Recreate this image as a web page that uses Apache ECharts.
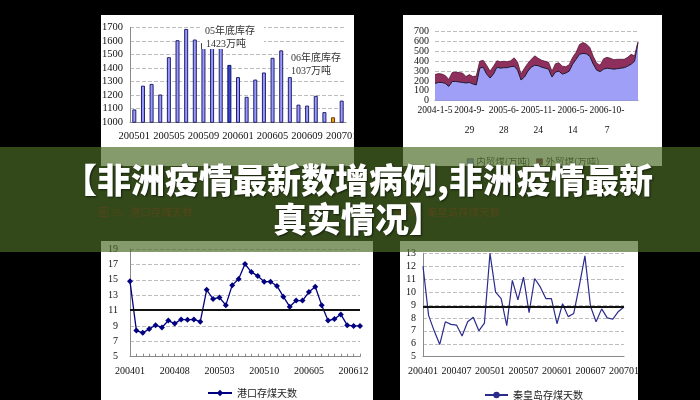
<!DOCTYPE html>
<html><head><meta charset="utf-8">
<script src="https://cdn.jsdelivr.net/npm/echarts@6/dist/echarts.min.js"></script>
<style>html,body{margin:0;padding:0;background:#000}#c{width:700px;height:400px}</style>
</head><body><div id="c"></div>
<script>
// ---- Chart 1: port stock (万吨), monthly bars
const stockMonths = ['200501','200502','200503','200504','200505','200506','200507','200508','200509','200510','200511','200512',
  '200601','200602','200603','200604','200605','200606','200607','200608','200609','200610','200611','200612','200701'];
const stockValues = [1095,1270,1283,1205,1480,1605,1688,1610,1580,1580,1590,1423,
  1333,1188,1315,1367,1475,1530,1333,1130,1123,1195,1075,1037,1160];
const stockHighlightBlue = '200512';
const stockHighlightOrange = '200612';

// ---- Chart 2: stacked area 内贸煤 / 外贸煤
const areaTickLabels = ['2004-1-5','2004-9-29','2005-6-28','2005-11-24','2006-5-14','2006-10-7'];
const areaTickStep = 10;
const domesticCoal = [175,185,185,175,145,195,195,190,185,180,185,170,160,330,340,270,230,270,340,330,
  335,335,345,350,310,210,240,300,340,360,355,340,330,320,240,290,300,270,280,300,
  370,420,470,480,475,450,370,310,295,320,330,325,320,325,330,335,350,370,400,590];
const foreignCoal = [90,90,85,80,70,90,95,95,95,65,80,75,90,70,70,90,70,80,65,65,
  65,60,60,85,80,60,90,80,80,95,75,70,70,70,60,85,85,80,65,65,
  70,70,100,110,100,90,80,70,65,105,110,105,95,95,90,85,90,100,55,10];

// ---- Chart 3: 港口存煤天数
const portMonths = ['200401','200402','200403','200404','200405','200406','200407','200408','200409','200410','200411','200412',
  '200501','200502','200503','200504','200505','200506','200507','200508','200509','200510','200511','200512',
  '200601','200602','200603','200604','200605','200606','200607','200608','200609','200610','200611','200612','200701'];
const portDays = [14.8,8.4,8.1,8.6,9.1,8.8,9.7,9.3,9.85,9.8,9.85,9.55,
  13.7,12.5,12.7,11.7,14.3,15.1,17.05,16.0,15.5,14.75,14.75,14.2,
  12.8,11.5,12.3,12.3,13.4,14.1,11.7,9.7,9.9,10.5,9.1,9.0,9.0];
const portAvg = 11.1;

// ---- Chart 4: 秦皇岛存煤天数
const qhdMonths = portMonths;
const qhdDays = [12.0,8.2,7.0,5.95,7.7,7.5,7.45,6.6,7.7,8.05,7.0,7.6,
  13.0,10.0,9.5,7.4,10.9,9.4,11.15,8.4,11.05,10.4,9.5,9.5,
  7.55,9.1,8.1,8.35,10.5,12.8,8.9,7.7,8.7,8.0,7.9,8.5,8.85];
const qhdAvg = 8.9;

const serif = 'Liberation Serif';
const cjk = 'Noto Sans CJK SC';
const gridLine = {show:true, lineStyle:{color:'#bdbdbd', type:'dashed', width:1}};
const axisGray = {show:true, lineStyle:{color:'#8a8a8a', width:1}};
const plain = v => String(v);

const chart = echarts.init(document.getElementById('c'), null, {renderer:'canvas'});

const barData = stockValues.map((v, i) => {
  let fill = '#9999ff', border = '#20206a';
  if (stockMonths[i] === stockHighlightBlue) { fill = '#2f46d8'; border = '#101060'; }
  if (stockMonths[i] === stockHighlightOrange) { fill = '#f4a11c'; border = '#6a3a00'; }
  return {value: v, itemStyle: {color: fill, borderColor: border, borderWidth: 1}};
});

const option = {
  backgroundColor: '#000',
  animation: false,
  textStyle: {fontFamily: serif},
  grid: [
    {left:130, top:27.3, width:216, height:95},
    {left:435, top:31.7, width:203, height:69},
    {left:130, top:249, width:230, height:107.7},
    {left:423, top:253.3, width:201, height:103.4}
  ],
  xAxis: [
    {gridIndex:0, type:'category', data:stockMonths, boundaryGap:true,
      axisLine:axisGray, axisTick:{show:false},
      axisLabel:{interval:3, fontSize:10.5, color:'#111', margin:8, fontFamily:serif}},
    {gridIndex:1, type:'category', data:domesticCoal.map((_, i) => String(i)), boundaryGap:false,
      axisLine:axisGray, axisTick:{show:false},
      axisLabel:{interval:areaTickStep - 1, fontSize:9.5, color:'#111', margin:0, lineHeight:20, fontFamily:serif,
        formatter:(v, i) => {
          const s = areaTickLabels[Math.round(i / areaTickStep)] || '';
          if (s.length <= 8) return s;
          const k = s.lastIndexOf('-') + 1;
          return s.slice(0, k) + '\n' + s.slice(k);
        }}},
    {gridIndex:2, type:'category', data:portMonths, boundaryGap:false,
      axisLine:axisGray, axisTick:{show:true, inside:true, length:3, interval:0, lineStyle:{color:'#8a8a8a'}},
      axisLabel:{interval:6, fontSize:10, color:'#111', margin:10, fontFamily:serif}},
    {gridIndex:3, type:'category', data:qhdMonths, boundaryGap:false,
      axisLine:axisGray, axisTick:{show:false},
      axisLabel:{interval:5, fontSize:10, color:'#111', margin:10, fontFamily:serif}}
  ],
  yAxis: [
    {gridIndex:0, type:'value', min:1000, max:1700, interval:100, axisLine:axisGray, axisTick:{show:false},
      splitLine:gridLine, axisLabel:{fontSize:10.5, color:'#111', margin:7, fontFamily:serif, formatter:plain}},
    {gridIndex:1, type:'value', min:0, max:700, interval:100, axisLine:{show:false}, axisTick:{show:false},
      splitLine:gridLine, axisLabel:{fontSize:10, color:'#111', margin:6, fontFamily:serif, formatter:plain}},
    {gridIndex:2, type:'value', min:5, max:19, interval:2, axisLine:axisGray, axisTick:{show:false},
      splitLine:gridLine, axisLabel:{fontSize:10, color:'#111', margin:12, fontFamily:serif, formatter:plain}},
    {gridIndex:3, type:'value', min:5, max:13, interval:1, axisLine:axisGray, axisTick:{show:false},
      splitLine:gridLine, axisLabel:{fontSize:10, color:'#111', margin:7, fontFamily:serif, formatter:plain}}
  ],
  legend: [
    {data:['内贸煤(万吨)','外贸煤(万吨)'], left:462, top:152, icon:'rect', itemWidth:6, itemHeight:6, itemGap:6,
      itemStyle:{borderColor:'#444', borderWidth:0.6},
      textStyle:{fontSize:9.5, color:'#444', fontFamily:cjk, padding:[0,0,0,-2]}},
    {data:['港口存煤天数'], left:202, top:383, itemWidth:24, itemHeight:8,
      textStyle:{fontSize:10, color:'#222', fontFamily:cjk}},
    {data:['秦皇岛存煤天数'], left:479, top:385, itemWidth:23, itemHeight:8,
      textStyle:{fontSize:10, color:'#222', fontFamily:cjk}}
  ],
  series: [
    {name:'港口库存', type:'bar', xAxisIndex:0, yAxisIndex:0, barWidth:4, data:barData},
    {name:'内贸煤(万吨)', type:'line', xAxisIndex:1, yAxisIndex:1, stack:'coal', symbol:'none',
      data:domesticCoal, itemStyle:{color:'#9999ff'}, lineStyle:{color:'#1a1a2a', width:1},
      areaStyle:{color:'#9f9ff7', opacity:1}},
    {name:'外贸煤(万吨)', type:'line', xAxisIndex:1, yAxisIndex:1, stack:'coal', symbol:'none',
      data:foreignCoal, itemStyle:{color:'#8e2f5e'}, lineStyle:{color:'#5a1535', width:0.8},
      areaStyle:{color:'#8e2f5e', opacity:1}},
    {name:'港口存煤天数', type:'line', xAxisIndex:2, yAxisIndex:2, symbol:'diamond', symbolSize:6, showAllSymbol:true,
      data:portDays, itemStyle:{color:'#000080'}, lineStyle:{color:'#000080', width:1.3},
      markLine:{silent:true, symbol:'none', label:{show:false}, lineStyle:{color:'#111', width:2, type:'solid'},
        data:[{yAxis:portAvg}]}},
    {name:'秦皇岛存煤天数', type:'line', xAxisIndex:3, yAxisIndex:3, symbol:'none',
      data:qhdDays, itemStyle:{color:'#2b2b8c'}, lineStyle:{color:'#2b2b8c', width:1.2},
      markLine:{silent:true, symbol:'none', label:{show:false}, lineStyle:{color:'#111', width:2, type:'solid'},
        data:[{yAxis:qhdAvg}]}}
  ],
  graphic: [
    {type:'rect', z:-10, shape:{x:101, y:15, width:253, height:151}, style:{fill:'#fff'}},
    {type:'rect', z:-10, shape:{x:403, y:15, width:259, height:151}, style:{fill:'#fff'}},
    {type:'rect', z:-10, shape:{x:101, y:241, width:272, height:159}, style:{fill:'#fff'}},
    {type:'rect', z:-10, shape:{x:400, y:241, width:238, height:159}, style:{fill:'#fff'}},
    {type:'rect', z:50, shape:{x:354, y:0, width:49, height:166}, style:{fill:'#000'}},
    {type:'rect', z:50, shape:{x:638, y:241, width:62, height:159}, style:{fill:'#000'}},
    {type:'rect', z:40, shape:{x:202, y:21, width:62, height:28}, style:{fill:'#fff'}},
    {type:'rect', z:40, shape:{x:288, y:50, width:58, height:26}, style:{fill:'#fff'}},
    {type:'line', z:41, shape:{x1:201.5, y1:43, x2:201.5, y2:49}, style:{stroke:'#333', lineWidth:0.8}},
    {type:'text', z:42, style:{x:205, y:31, text:'05年底库存', fill:'#333', font:'10px "Liberation Serif","Noto Sans CJK SC"', verticalAlign:'middle'}},
    {type:'text', z:42, style:{x:206, y:44, text:'1423万吨', fill:'#333', font:'10px "Liberation Serif","Noto Sans CJK SC"', verticalAlign:'middle'}},
    {type:'text', z:42, style:{x:291, y:58, text:'06年底库存', fill:'#333', font:'10px "Liberation Serif","Noto Sans CJK SC"', verticalAlign:'middle'}},
    {type:'text', z:42, style:{x:291, y:71, text:'1037万吨', fill:'#333', font:'10px "Liberation Serif","Noto Sans CJK SC"', verticalAlign:'middle'}},
    {type:'rect', z:100, shape:{x:0, y:147, width:700, height:105}, style:{fill:'rgba(75,107,38,0.68)'}},
    {type:'text', z:101, style:{x:98, y:213, text:'图 35:  港口存煤天数', fill:'rgb(84,70,26)', font:'10.5px "Liberation Serif","Noto Sans CJK SC"', verticalAlign:'middle'}},
    {type:'text', z:101, style:{x:395, y:213, text:'图 36:  秦皇岛存煤天数', fill:'rgb(84,70,26)', font:'10.5px "Liberation Serif","Noto Sans CJK SC"', verticalAlign:'middle'}},
    {type:'text', z:102, style:{x:358, y:200, text:'【非洲疫情最新数增病例,非洲疫情最新\n真实情况】',
      fill:'#fff', font:'900 34px "Noto Sans CJK SC"', align:'center', verticalAlign:'middle', lineHeight:39,
      textShadowColor:'rgba(0,0,0,0.6)', textShadowBlur:2, textShadowOffsetX:1, textShadowOffsetY:1}}
  ]
};
chart.setOption(option);
</script>
</body></html>
